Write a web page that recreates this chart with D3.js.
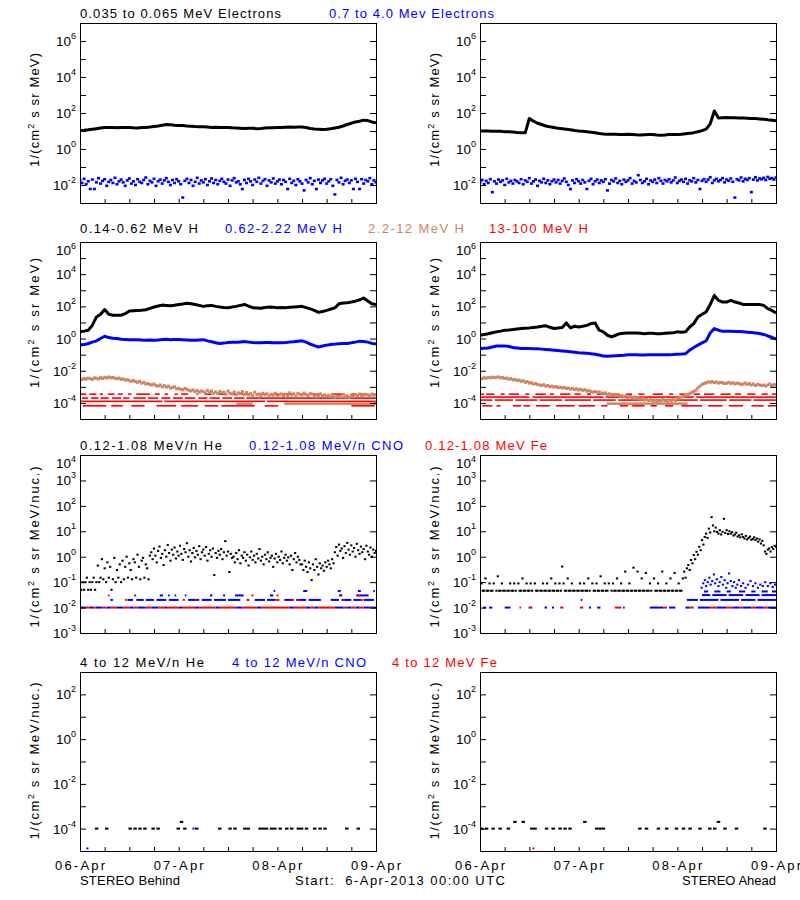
<!DOCTYPE html>
<html><head><meta charset="utf-8">
<script src="https://cdn.jsdelivr.net/npm/d3@7"></script>
<style>
body{margin:0;background:#fff;}
svg{display:block;background:#fff;}
text{font-family:"Liberation Sans",Arial,sans-serif;}
</style></head><body>
<svg id="c" width="800" height="900"></svg>
<script>
// ---------------- DATA ----------------
const dayLabels = ["06-Apr","07-Apr","08-Apr","09-Apr"];
const hourTicks = [0,6,12,18,24,30,36,42,48,54,60,66,72];
const footerTexts = ["STEREO Behind","Start:  6-Apr-2013 00:00 UTC","STEREO Ahead"];
const expRow1 = [-2,0,2,4,6];
const expRow2 = [-4,-2,0,2,4,6];
const expRow3 = [-3,-2,-1,0,1,2,3,4];
const expRow4 = [-4,-2,0,2];
const yLabelHead = "1/(cm";
const yLabelTailE = " s sr MeV)";
const yLabelTailN = " s sr MeV/nuc.)";
const titles1 = ["0.035 to 0.065 MeV Electrons","0.7 to 4.0 Mev Electrons"];
const titles2 = ["0.14-0.62 MeV H","0.62-2.22 MeV H","2.2-12 MeV H","13-100 MeV H"];
const titles3 = ["0.12-1.08 MeV/n He","0.12-1.08 MeV/n CNO","0.12-1.08 MeV Fe"];
const titles4 = ["4 to 12 MeV/n He","4 to 12 MeV/n CNO","4 to 12 MeV Fe"];

// Row 1: electrons (hourly / half-hourly)
const eLoB = [10.5,11,11.7,12.6,13.5,14.5,15.5,15.8,15.5,15,15.8,15.5,15.8,15,14.8,15.5,15.8,16.6,17.8,19,21,23,22,21,20.4,20,19,18.6,17.8,17.4,17.4,16.6,15.8,16.2,15.8,15.5,15.8,15,14.5,14.1,13.8,14.1,14.1,13.5,13.8,14.5,15,15,15.5,15.8,16.2,16.6,16.2,16.6,16.6,15.5,13.8,12.9,12.6,12.3,12.6,13.2,14.8,16.2,19,23,27,32,35,40,38,32,29];
const eLoA = [10,10,10,9.8,9.6,9.6,9.1,9.1,8.7,8.3,8.1,7.9,50,35,27,23,19,17,15.5,14,13.5,12.6,11.7,10.7,10,9.6,9.1,8.5,7.9,7.2,6.8,6.6,6.5,6.6,6.4,6.3,6.5,6.3,6.1,6.0,6.2,6.3,6.4,6.0,5.8,6.0,6.3,6.4,6.3,6.6,7.0,7.4,8.1,9.1,10.5,12.6,25,130,52,55,57,55,54,52,52,51,50,49,47,45,42,40,37];
const eHiB = [0.018,0.013,0.022,0.011,0.016,0.006,0.02,0.006,0.014,0.024,0.012,0.017,0.021,0.009,0.015,0.019,0.013,0.025,0.011,0.016,0.02,0.014,0.009,0.018,0.023,0.012,0.016,0.01,0.021,0.015,0.013,0.019,0.026,0.011,0.017,0.014,0.022,0.009,0.016,0.02,0.012,0.018,0.024,0.015,0.01,0.019,0.013,0.021,0.016,0.011,0.002,0.017,0.022,0.013,0.019,0.009,0.015,0.025,0.012,0.018,0.014,0.021,0.01,0.016,0.023,0.013,0.019,0.011,0.017,0.022,0.015,0.012,0.02,0.009,0.018,0.024,0.014,0.016,0.011,0.006,0.019,0.013,0.022,0.016,0.01,0.02,0.015,0.025,0.012,0.017,0.021,0.009,0.018,0.014,0.023,0.012,0.016,0.02,0.011,0.019,0.015,0.006,0.022,0.013,0.017,0.01,0.021,0.016,0.012,0.005,0.019,0.014,0.024,0.011,0.017,0.006,0.02,0.013,0.018,0.022,0.012,0.016,0.021,0.009,0.003,0.019,0.014,0.025,0.011,0.017,0.02,0.013,0.018,0.006,0.022,0.015,0.006,0.021,0.012,0.019,0.016,0.024,0.011,0.018,0.014];
const eHiA = [0.014,0.019,0.011,0.017,0.013,0.021,0.004,0.016,0.012,0.02,0.015,0.018,0.01,0.022,0.014,0.017,0.012,0.019,0.016,0.013,0.021,0.011,0.018,0.015,0.024,0.012,0.016,0.02,0.009,0.017,0.014,0.022,0.013,0.018,0.011,0.016,0.02,0.014,0.019,0.012,0.017,0.023,0.015,0.01,0.006,0.018,0.013,0.021,0.016,0.012,0.019,0.014,0.006,0.017,0.022,0.011,0.016,0.02,0.013,0.018,0.015,0.021,0.005,0.012,0.019,0.016,0.023,0.013,0.017,0.011,0.02,0.015,0.018,0.024,0.012,0.017,0.014,0.035,0.019,0.013,0.016,0.022,0.011,0.018,0.015,0.02,0.013,0.024,0.017,0.012,0.019,0.016,0.021,0.014,0.018,0.026,0.013,0.017,0.02,0.015,0.022,0.012,0.018,0.016,0.024,0.014,0.019,0.006,0.017,0.021,0.015,0.02,0.027,0.013,0.018,0.022,0.016,0.019,0.024,0.014,0.02,0.017,0.023,0.015,0.002,0.021,0.018,0.026,0.016,0.022,0.019,0.024,0.004,0.02,0.027,0.018,0.023,0.021,0.025,0.019,0.028,0.022,0.024,0.02,0.026];

// Row 2: protons
const hLoB = [2.6,2.9,3.3,6.6,22,32,63,32,28,28,28,35,51,54,56,58,62,75,91,105,120,115,110,118,132,140,155,145,132,115,100,108,115,100,91,85,83,90,100,115,132,105,83,80,76,85,91,88,83,85,83,88,91,95,100,83,70,56,43,48,56,68,80,145,162,170,186,210,257,330,214,145,132];
const hMidB = [0.39,0.42,0.49,0.6,0.72,1.0,1.38,1.15,1.05,1.0,0.91,0.87,0.83,0.85,0.83,0.8,0.79,0.8,0.79,0.82,0.87,0.9,0.85,0.87,0.87,0.83,0.8,0.78,0.78,0.82,0.85,0.72,0.63,0.55,0.49,0.52,0.56,0.58,0.59,0.62,0.65,0.6,0.56,0.55,0.54,0.56,0.56,0.55,0.54,0.55,0.56,0.6,0.63,0.68,0.72,0.6,0.45,0.36,0.3,0.34,0.39,0.42,0.45,0.47,0.49,0.5,0.54,0.6,0.69,0.66,0.6,0.5,0.45];
const hHiB = [31e-4,28e-4,33e-4,30e-4,35e-4,32e-4,29e-4,36e-4,34e-4,31e-4,37e-4,33e-4,39e-4,35e-4,41e-4,36e-4,38e-4,34e-4,32e-4,35e-4,29e-4,31e-4,26e-4,28e-4,24e-4,22e-4,25e-4,21e-4,19e-4,22e-4,17e-4,19e-4,15e-4,16e-4,14e-4,13e-4,15e-4,12e-4,11e-4,13e-4,10e-4,12e-4,9.5e-4,11e-4,8.5e-4,9e-4,10e-4,7.5e-4,8e-4,7e-4,6.5e-4,8e-4,7e-4,6e-4,5.5e-4,6.5e-4,5e-4,6e-4,4.6e-4,5.5e-4,5e-4,4.2e-4,6e-4,4.5e-4,5.5e-4,4e-4,4.8e-4,3.8e-4,5.2e-4,4.3e-4,4.6e-4,3.5e-4,5.5e-4,4e-4,3.6e-4,4.8e-4,3.3e-4,4.2e-4,3.8e-4,5e-4,3.4e-4,4.4e-4,3.1e-4,3.8e-4,2.9e-4,4.6e-4,3.3e-4,3.6e-4,2.8e-4,4e-4,3.2e-4,3.7e-4,2.7e-4,3.5e-4,3e-4,4e-4,2.6e-4,3.3e-4,3.6e-4,2.9e-4,3.5e-4,2.8e-4,4.2e-4,3.1e-4,3.7e-4,2.7e-4,3.9e-4,3.4e-4,3e-4,4.1e-4,3.3e-4,2.9e-4,3.8e-4,3.5e-4,2.6e-4,3.2e-4,2.5e-4,3.6e-4,2.8e-4,3.1e-4,2.6e-4,3e-4,2.4e-4,2.9e-4,2.2e-4,2.7e-4,2.5e-4,2.3e-4,3.2e-4,2.4e-4,2.8e-4,2.2e-4,3e-4,2.6e-4,3.3e-4,2.9e-4,3.6e-4,2.7e-4,3.1e-4,3.4e-4,3.2e-4,2.8e-4,3.5e-4,3e-4,3.3e-4];
const hHiBLow = [[38,42],[49.7,72]];
const redLvB = [3.5e-4,2.0e-4,1.25e-4,6.6e-5];
const redSegB = [
 [[0,1.5],[2.3,4],[4.8,5.6],[6.8,8.4],[9.2,10.4],[11.7,12.5],[13.7,17],[18.2,19.4],[20.6,21.4],[23,23.8],[24.6,26.3],[28.3,28.7],[30.3,32],[33.6,35.6],[36.8,38],[39.2,41.7],[43.3,45.7],[47,48.2],[49.4,52.2],[53,54.7],[56.3,58.7],[61.1,64.4],[66,67.2],[68.4,69.7],[70.9,72]],
 [[0.5,2],[2.6,4.5],[5,7],[7.8,10],[10.5,12],[13,16],[16.5,19],[19.8,22],[22.6,25],[25.5,28],[28.8,31],[31.5,34],[34.6,37],[37.5,40],[40.5,72]],
 [[0,20],[20.5,45],[45.5,72]],
 [[0.7,6.4],[7.6,10.4],[12.5,15.7],[18.6,23.4],[24.6,28.7],[30.3,33.6],[34.4,42.5],[44.9,48.2],[66,71.7]]
];
const hLoA = [1.6,1.8,2.0,2.3,2.6,2.9,3.3,3.4,3.6,3.9,4.2,4.4,4.6,4.9,5.2,5.8,6.3,5.0,4.2,4.5,4.8,9.3,4.6,5.8,5.2,5.8,6.6,8.5,9.3,3.3,2.6,1.6,1.26,1.6,2.0,2.1,2.2,2.2,2.2,2.1,2.0,2.1,2.1,2.0,2.0,2.1,2.2,2.3,2.6,2.5,2.6,5.2,8.5,22,32,45,130,480,235,186,186,235,186,162,132,130,132,130,132,115,72,56,39];
const hMidA = [0.24,0.25,0.26,0.3,0.34,0.35,0.35,0.32,0.28,0.26,0.24,0.24,0.24,0.23,0.23,0.22,0.21,0.2,0.19,0.18,0.17,0.16,0.15,0.14,0.13,0.125,0.12,0.115,0.107,0.095,0.081,0.08,0.082,0.085,0.089,0.092,0.098,0.097,0.098,0.096,0.095,0.097,0.098,0.098,0.098,0.1,0.1,0.102,0.107,0.11,0.115,0.19,0.28,0.39,0.54,0.72,2.2,4.2,3.3,2.8,2.8,2.8,2.75,2.7,2.6,2.5,2.35,2.2,2.05,1.8,1.45,1.2,0.91];
const hHiA = [35e-4,32e-4,37e-4,34e-4,38e-4,36e-4,40e-4,37e-4,39e-4,41e-4,36e-4,38e-4,33e-4,35e-4,30e-4,32e-4,27e-4,29e-4,25e-4,26e-4,22e-4,24e-4,19e-4,21e-4,17e-4,18e-4,15e-4,16e-4,14e-4,13e-4,12e-4,13.5e-4,11e-4,12e-4,10e-4,11e-4,9.5e-4,10.5e-4,8.8e-4,9.5e-4,8.5e-4,9.2e-4,7.8e-4,8.4e-4,7.2e-4,8e-4,6.8e-4,7.4e-4,6.4e-4,7e-4,6e-4,6.6e-4,5.4e-4,5.8e-4,5e-4,4.6e-4,5.2e-4,4.4e-4,4.8e-4,4e-4,3.8e-4,4.2e-4,3.4e-4,3.6e-4,3.1e-4,3.3e-4,2.9e-4,3.2e-4,2.6e-4,2.8e-4,2.4e-4,2.7e-4,2.2e-4,2.5e-4,2.0e-4,2.3e-4,1.8e-4,2.1e-4,1.6e-4,1.9e-4,1.5e-4,1.7e-4,1.4e-4,1.6e-4,1.3e-4,1.5e-4,1.2e-4,1.4e-4,1.3e-4,1.6e-4,1.4e-4,1.2e-4,1.5e-4,1.3e-4,1.6e-4,1.4e-4,1.8e-4,2.0e-4,2.3e-4,2.6e-4,3.0e-4,3.3e-4,3.7e-4,4.4e-4,5.2e-4,6.2e-4,8.5e-4,11e-4,14e-4,16e-4,18e-4,20e-4,19e-4,21e-4,18e-4,20e-4,17e-4,19e-4,18e-4,16e-4,17e-4,19e-4,16e-4,18e-4,15e-4,17e-4,16e-4,14e-4,15e-4,17e-4,14e-4,16e-4,13e-4,15e-4,12e-4,14e-4,13e-4,12e-4,13e-4,11e-4,13e-4,15e-4,12e-4,14e-4,13e-4];
const hHiALow = [[30.8,50.5]];
const redLvA = [3.5e-4,2.3e-4,1.5e-4,6.6e-5];
const redSegA = [
 [[0,1],[1.5,3.5],[5,6],[7,9.5],[11,12],[13.5,16],[17,18],[19.5,22],[23,24.5],[26,27],[28.5,31],[32,34],[35.5,37],[38.5,40],[42,44.5],[46,47],[48.5,50],[52,53.5],[54.5,57],[58.5,61],[62,63.5],[65,67],[68.5,70],[71,72]],
 [[0,12],[12.8,30],[30.6,52],[52.6,72]],
 [[0,3],[3.6,8],[8.6,14],[14.5,20],[20.6,27],[27.5,33],[33.6,40],[40.5,47],[47.6,53],[53.5,60],[60.6,66],[66.5,72]],
 [[0.6,3],[4,5],[8,10],[10.6,12.2],[13.6,17],[18.5,23],[24,28],[29.5,31],[34,36],[37,40],[41.5,43],[45,47],[49,54],[55.5,59],[60.5,64],[66,69],[70,72]]
];

// Row 3: 0.12-1.08 MeV/n heavy ions (20-minute He, quantized CNO/Fe levels)
const heB = [0.1,0.05,0.1,0.05,0.1,0.15,0.05,0.1,0.05,0.1,0.15,0.05,0.1,
 0.45,0.1,0.15,0.8,0.13,0.35,0.1,0.6,0.15,0.4,0.05,0.13,0.9,0.1,0.3,0.15,0.5,0.1,0.7,0.13,0.4,1.0,0.15,0.55,0.3,0.13,0.8,0.6,0.15,1.2,0.4,0.13,0.7,0.9,0.15,0.5,0.35,0.13,1.1,
 1.5,0.8,2.1,1.1,0.6,1.7,2.5,0.9,1.3,0.47,1.8,1.0,2.9,1.4,0.7,1.9,1.2,2.3,0.85,1.6,1.1,2.7,1.3,0.75,2.0,1.5,3.4,1.0,1.8,0.65,1.4,2.2,0.95,1.7,1.2,2.6,0.8,1.5,1.9,1.1,2.4,0.7,1.3,1.8,1.0,2.1,0.19,1.4,0.9,1.7,1.2,2.0,0.8,1.5,4.1,1.1,1.6,0.25,1.3,0.9,
 1.0,0.6,1.4,0.8,1.8,0.55,1.1,0.9,1.5,0.7,1.2,0.45,0.95,1.6,0.75,1.1,0.6,1.3,0.85,2.0,0.7,1.0,0.5,1.2,0.8,1.5,0.65,0.9,1.1,0.4,0.85,1.3,0.6,1.0,0.75,1.6,0.55,0.9,1.2,0.7,0.95,0.5,1.1,0.3,0.8,1.4,0.6,1.0,0.75,0.5,
 0.5,0.3,0.7,0.4,0.25,0.6,0.35,0.12,0.5,0.3,0.8,0.4,0.2,0.55,0.35,0.45,0.28,0.6,0.4,0.7,0.5,0.35,0.8,0.55,
 1.5,2.4,1.1,3.0,1.7,2.1,0.9,2.6,1.4,3.5,1.9,1.2,2.8,1.6,2.2,1.0,3.2,1.8,1.3,2.5,1.5,2.0,0.8,2.7,1.6,1.2,2.3,1.0,1.9,1.4,1.7];
const cnoLvB = [0.01,0.02,0.03,0.045];
const cnoSegB = [
 [[0,1.2],[2.4,3.2],[3.8,5.5],[6.5,7.5],[9,10.5],[12,13],[14,16],[17.5,19],[20.5,21.2],[24,25],[28,29],[33,34],[38,39.5],[43,44],[51,52],[55,56],[57,58],[62,64],[65,66],[67,68],[69,70.5],[71,72]],
 [[7.4,8],[11.6,12.9],[13.7,15.5],[16,18],[18.6,21],[21.6,24],[26.3,29],[29.6,32],[32.6,35.5],[36,39],[42.5,45],[45.5,47.5],[49.7,52],[52.6,55],[55.6,58.6],[61,63],[63.6,66],[66.5,68.5],[69,71.5]],
 [[13.2,13.6],[19.4,20.2],[21.4,21.8],[23,23.4],[25.5,25.9],[31.6,32.2],[34.8,35.3],[37.7,39.8],[46.2,47],[63,63.8],[67.2,70.2]],
 [[47.1,47.5],[54.3,55.3],[62.7,63.4],[67.6,68.3],[71.3,71.7]]
];
const feLvB = [0.01,0.02,0.03];
const feSegB = [
 [[1.2,2.4],[3.2,3.8],[5.5,6.5],[7.5,9],[10.5,12],[13,14],[16,17.5],[19,20.5],[21.2,24],[25,28],[29,33],[34,38],[39.5,43],[44,51],[52,55],[56,57],[58,62],[64,65],[66,67],[68,69],[70.5,71]],
 [[11,11.5],[25,25.5],[28,28.4],[40.5,41.2],[47.5,48.5],[51.3,51.7],[53,53.4],[64,64.4],[68,68.8]],
 [[6.8,7.2],[41.7,42.2],[47.8,48.3],[67.5,68.3]]
];
const heA = [0.046,0.089,0.046,0.046,0.14,0.046,0.046,0.089,0.046,0.046,0.089,null,0.046,0.17,0.046,
 0.046,0.089,0.046,0.046,null,0.046,0.046,0.089,0.046,0.046,0.089,0.046,null,0.089,0.046,
 0.046,0.14,0.046,0.046,0.089,0.046,0.046,0.089,0.046,null,0.089,0.046,0.046,null,0.046,
 0.046,0.089,0.046,0.046,0.089,0.046,0.046,0.14,0.046,0.046,0.089,0.046,0.046,0.089,0.046,
 0.41,0.089,0.046,0.046,0.14,0.046,0.046,0.089,0.046,0.046,null,0.046,0.046,0.089,0.046,
 0.046,0.089,0.046,0.046,0.14,0.046,null,0.089,0.046,0.046,0.089,0.046,0.046,0.17,0.046,
 0.046,0.089,0.046,0.046,0.089,null,0.046,0.089,0.046,0.046,0.14,0.046,0.046,0.089,0.046,
 0.046,0.26,0.046,0.046,0.089,0.046,0.046,0.37,0.046,0.046,0.26,0.046,0.046,0.14,0.046,
 0.046,0.23,0.046,0.046,0.089,0.046,null,0.14,0.046,0.046,0.089,0.046,0.046,0.26,0.046,
 0.046,0.089,0.046,0.046,0.14,0.046,0.046,0.23,0.046,0.046,0.089,0.046,0.046,0.14,
 0.26,0.15,0.35,0.47,0.3,0.74,0.55,
 1.16,0.8,1.57,1.2,2.45,1.8,4.5,3.0,6.0,
 8.1,5.5,12.7,9.0,36,17,10,14,9.4,
 8.1,11,7.5,9.5,31,8.5,11,7.8,10,
 8.0,9.2,6.8,7.5,8.8,6.2,7.0,5.8,7.6,
 6.0,5.2,6.6,4.8,5.5,6.2,4.6,5.0,5.8,
 4.5,5.2,3.9,4.8,3.3,4.2,2.8,1.6,1.3,
 1.9,2.1,1.6,2.4,2.0,2.7,2.45];
const cnoLvA = [0.01,0.02,0.031,0.043];
const cnoSegA = [
 [[0.8,1.5],[2.2,3],[6,7.4],[12.3,12.7],[15.7,16.3],[17.5,18],[26.5,27],[28.5,29.3],[34.8,35.2],[41.3,44.6],[46,47.5],[50,51],[53,56],[57.5,60],[61.6,63],[64,66],[67,69],[70,72]],
 [[24.5,24.9],[50.3,53],[53.5,58],[58.5,63],[63.5,67],[67.5,72]],
 [[54,56],[56.5,60],[60.5,64],[64.6,68],[68.5,72]],
 [[54.5,55.5],[57,58.5],[60,61],[63,64.5],[66,67],[68.5,70],[71,72]]
];
const cnoCloudA = [[53.9,0.06],[54.3,0.09],[54.7,0.12],[55,0.07],[55.4,0.1],[55.8,0.15],[56.1,0.08],[56.5,0.11],[56.9,0.2],[57.2,0.09],[57.6,0.13],[58,0.07],[58.3,0.1],[58.7,0.16],[59.1,0.08],[59.5,0.12],[59.9,0.06],[60.2,0.09],[60.6,0.22],[61,0.11],[61.4,0.07],[61.8,0.1],[62.2,0.06],[62.6,0.08],[63,0.12],[63.5,0.07],[64,0.09],[64.6,0.06],[65.2,0.08],[65.8,0.11],[66.4,0.07],[67,0.09],[67.6,0.06],[68.2,0.08],[68.8,0.07],[69.4,0.1],[70,0.07],[70.6,0.09],[71.2,0.065],[71.8,0.08]];
const feLvA = [0.01];
const feSegA = [[[9.6,10],[11.8,12.4],[19.5,20.3],[24.3,25.1],[32.8,34.4],[44.6,45.5],[51,52],[56,57.5],[60,61.6],[63,64],[66,67],[69,70]]];

// Row 4: 4-12 MeV/n (sparse [hour, value])
const he4B = [[4.05,1e-4],[6.49,1e-4],[12.2,1e-4],[13.4,1e-4],[14.6,1e-4],[15.8,1e-4],[17.8,1e-4],[19.0,1e-4],[23.9,1e-4],[24.7,2e-4],[25.5,1e-4],[28.4,1e-4],[34.0,1e-4],[36.5,1e-4],[37.7,1e-4],[40.1,1e-4],[40.9,1e-4],[43.8,1e-4],[44.6,1e-4],[45.4,1e-4],[46.6,1e-4],[47.4,1e-4],[48.7,1e-4],[50.3,1e-4],[51.5,1e-4],[53.1,1e-4],[53.9,1e-4],[55.1,1e-4],[57.1,1e-4],[58.4,1e-4],[59.6,1e-4],[64.9,1e-4],[67.7,1e-4]];
const cno4B = [[27.6,1e-4],[1.8,1.3e-5]];
const he4A = [[0.41,1e-4],[1.6,1e-4],[3.2,1e-4],[4.9,1e-4],[6.9,1e-4],[8.5,2e-4],[10.5,2e-4],[12.6,1e-4],[13.4,1e-4],[16.2,1e-4],[17.8,1e-4],[19.5,1e-4],[20.7,1e-4],[21.9,1e-4],[25.5,2e-4],[28.4,1e-4],[29.2,1e-4],[30,1e-4],[38.9,1e-4],[40.5,1e-4],[43.4,1e-4],[45.4,1e-4],[47.8,1e-4],[49.5,1e-4],[51.1,1e-4],[53.5,1e-4],[55.9,1e-4],[57.1,1e-4],[58,2e-4],[59.6,1e-4],[62.4,1e-4],[69.3,1e-4]];
const fe4A = [[13,1.3e-5]];

// ---------------- LAYOUT ----------------
const BLACK="#000000", BLUE="#0000ff", BROWN="#cd8564", RED="#ff0000";
const svg = d3.select("#c");
const COLS = [{x0:80,x1:376},{x0:480,x1:776}];
const ROWS = [
 {y0:23,y1:203,lo:-3,hi:7,exps:expRow1,tail:yLabelTailE,ylen:114,ymid:110,tb:18},
 {y0:242,y1:419,lo:-5,hi:6,exps:expRow2,tail:yLabelTailE,ylen:130,ymid:323,tb:233},
 {y0:455,y1:633,lo:-3,hi:4,exps:expRow3,tail:yLabelTailN,ylen:161,ymid:547,tb:450},
 {y0:672,y1:851,lo:-5,hi:3,exps:expRow4,tail:yLabelTailN,ylen:157,ymid:761,tb:667}
];

function panel(ci, ri){
  const c = COLS[ci], r = ROWS[ri];
  const x = d3.scaleLinear().domain([hourTicks[0], hourTicks[hourTicks.length-1]]).range([c.x0, c.x1]);
  const y = d3.scaleLog().domain([Math.pow(10,r.lo), Math.pow(10,r.hi)]).range([r.y1, r.y0]);
  const id = "cp"+ci+ri;
  svg.append("clipPath").attr("id", id).append("rect")
    .attr("x", c.x0).attr("y", r.y0).attr("width", c.x1-c.x0).attr("height", r.y1-r.y0);
  const marks = svg.append("g").attr("clip-path", "url(#"+id+")");
  const ax = svg.append("g");
  const decs = d3.range(r.lo+1, r.hi).map(e => Math.pow(10,e));
  ax.append("g").attr("transform", `translate(${c.x0},0)`)
    .call(d3.axisLeft(y).tickValues(decs).tickSize(-6).tickFormat(""))
    .call(g => g.select(".domain").remove());
  ax.append("g").attr("transform", `translate(${c.x1},0)`)
    .call(d3.axisRight(y).tickValues(decs).tickSize(-6).tickFormat(""))
    .call(g => g.select(".domain").remove());
  ax.append("g").attr("transform", `translate(0,${r.y1})`)
    .call(d3.axisBottom(x).tickValues(hourTicks.slice(1,-1)).tickSize(-4).tickFormat(""))
    .call(g => g.select(".domain").remove());
  ax.append("rect").attr("x", c.x0+0.5).attr("y", r.y0+0.5)
    .attr("width", c.x1-c.x0).attr("height", r.y1-r.y0)
    .attr("fill","none").attr("stroke","#000").attr("stroke-width",1);
  r.exps.forEach(e => {
    const ty = y(Math.pow(10,e));
    const atTop = Math.abs(ty - r.y0) < 1;
    const base = atTop ? ty + 13 : ty + 5;
    const t = ax.append("text").attr("x", c.x0-4).attr("y", base)
      .attr("text-anchor","end").attr("font-size",13.5).attr("fill","#000");
    t.append("tspan").text("10");
    t.append("tspan").attr("dy", atTop ? -6 : -7).attr("font-size",9).text(String(e));
  });
  const yl = ax.append("text")
    .attr("transform", `translate(${c.x0-41},${r.ymid}) rotate(-90)`)
    .attr("text-anchor","middle").attr("font-size",13).attr("fill","#000")
    .attr("textLength", r.ylen).attr("lengthAdjust","spacing");
  yl.append("tspan").text(yLabelHead);
  yl.append("tspan").attr("dy",-5).attr("font-size",9).text("2");
  yl.append("tspan").attr("dy",5).style("white-space","pre").text(r.tail);
  return {x, y, marks};
}

const tOf = (arr, i) => i*72/(arr.length-1);
function lineSeries(p, arr, color, w){
  p.marks.append("path").datum(arr)
    .attr("fill","none").attr("stroke",color).attr("stroke-width",w)
    .attr("stroke-linejoin","round")
    .attr("d", d3.line().defined(d => d!=null).x((d,i) => p.x(tOf(arr,i))).y(d => p.y(d)));
}
function dotSeries(p, arr, color, w, h){
  const pts = arr.map((v,i) => [tOf(arr,i), v]).filter(d => d[1]!=null);
  pairSeries(p, pts, color, w, h);
}
function pairSeries(p, pts, color, w, h){
  p.marks.append("g").attr("fill",color).selectAll("rect").data(pts).join("rect")
    .attr("x", d => p.x(d[0])-w/2).attr("y", d => p.y(d[1])-h/2)
    .attr("width", w).attr("height", h);
}
function segSeries(p, levels, segs, color, h){
  levels.forEach((lv,k) => {
    p.marks.append("g").attr("fill",color).selectAll("rect").data(segs[k]).join("rect")
      .attr("x", d => p.x(d[0])).attr("width", d => Math.max(1.5, p.x(d[1])-p.x(d[0])))
      .attr("y", p.y(lv)-h/2).attr("height", h);
  });
}

// Row 1
let p = panel(0,0);
lineSeries(p, eLoB, BLACK, 3);
dotSeries(p, eHiB, BLUE, 3, 2.6);
p = panel(1,0);
lineSeries(p, eLoA, BLACK, 3);
dotSeries(p, eHiA, BLUE, 3, 2.6);

// Row 2
p = panel(0,1);
segSeries(p, redLvB, redSegB, RED, 1.6);
segSeries(p, [9e-5], [hHiBLow], BROWN, 2.5);
dotSeries(p, hHiB, BROWN, 3, 3);
lineSeries(p, hMidB, BLUE, 3);
lineSeries(p, hLoB, BLACK, 3);
p = panel(1,1);
segSeries(p, redLvA, redSegA, RED, 1.6);
segSeries(p, [9e-5], [hHiALow], BROWN, 2.5);
dotSeries(p, hHiA, BROWN, 3, 3);
lineSeries(p, hMidA, BLUE, 3);
lineSeries(p, hLoA, BLACK, 3);

// Row 3
p = panel(0,2);
segSeries(p, cnoLvB, cnoSegB, BLUE, 2);
segSeries(p, feLvB, feSegB, RED, 2);
dotSeries(p, heB, BLACK, 2.2, 2);
p = panel(1,2);
segSeries(p, cnoLvA, cnoSegA, BLUE, 2);
segSeries(p, feLvA, feSegA, RED, 2);
pairSeries(p, cnoCloudA, BLUE, 2.2, 2);
dotSeries(p, heA, BLACK, 2.2, 2);

// Row 4
p = panel(0,3);
pairSeries(p, he4B, BLACK, 3.5, 2);
pairSeries(p, cno4B, BLUE, 2, 2);
const pB4 = p;
p = panel(1,3);
pairSeries(p, he4A, BLACK, 3.5, 2);
pairSeries(p, fe4A, RED, 2, 2);
const pA4 = p;

// Titles
const titleRows = [
 {texts:titles1, colors:[BLACK,BLUE], pos:[[80,201],[329,165]]},
 {texts:titles2, colors:[BLACK,BLUE,BROWN,RED], pos:[[80,118],[225,117],[368,96],[489,99]]},
 {texts:titles3, colors:[BLACK,BLUE,RED], pos:[[80,142],[249,154],[425,122]]},
 {texts:titles4, colors:[BLACK,BLUE,RED], pos:[[80,124],[232,134],[392,105]]}
];
titleRows.forEach((tr, ri) => {
  tr.texts.forEach((t, k) => {
    svg.append("text").attr("x", tr.pos[k][0]).attr("y", ROWS[ri].tb)
      .attr("font-size",13).attr("fill", tr.colors[k])
      .attr("textLength", tr.pos[k][1]).attr("lengthAdjust","spacing")
      .style("white-space","pre").text(t);
  });
});

// Date labels
[pB4, pA4].forEach(pp => {
  dayLabels.forEach((d, k) => {
    svg.append("text").attr("x", pp.x(k*24)).attr("y", 870)
      .attr("text-anchor","middle").attr("font-size",13).attr("fill","#000")
      .attr("textLength",50).attr("lengthAdjust","spacing").text(d);
  });
});
// Footer
const footPos = [[80,100],[295,210],[682,94]];
footerTexts.forEach((t,k) => {
  svg.append("text").attr("x", footPos[k][0]).attr("y", 885)
    .attr("font-size",13).attr("fill","#000")
    .attr("textLength", footPos[k][1]).attr("lengthAdjust","spacing")
    .style("white-space","pre").text(t);
});
</script>
</body></html>
